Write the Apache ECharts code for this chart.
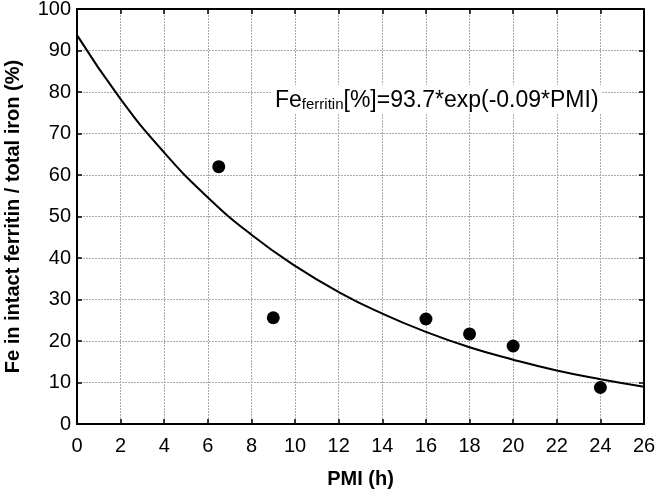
<!DOCTYPE html>
<html>
<head>
<meta charset="utf-8">
<script src="https://cdn.jsdelivr.net/npm/echarts@6/dist/echarts.min.js"></script>
<style>
  html, body { margin: 0; padding: 0; background: #fff; }
  #chart { width: 657px; height: 492px; }
</style>
</head>
<body>
<div id="chart"></div>
<script>
// measured points
const pmiHours = [6.5, 9, 16, 18, 20, 24]
const feFerritin = [62, 25.6, 25.3, 21.7, 18.8, 8.8]

// fitted curve
const fitX = [0, 2, 4, 6, 8, 10, 12, 14, 16, 18, 20, 22, 24, 26]
const fitY = [93.7, 78.3, 65.4, 54.6, 45.6, 38.1, 31.8, 26.6, 22.2, 18.5, 15.5, 12.9, 10.8, 9.0]

const xTicks = { min: 0, max: 26, step: 2 }
const yTicks = { min: 0, max: 100, step: 10 }

const font = '"Liberation Sans", Arial, sans-serif'

var myChart = echarts.init(document.getElementById('chart'))

var axisBase = {
  type: 'value',
  axisLine: { show: true, onZero: false, lineStyle: { color: '#000', width: 2 } },
  axisTick: { show: true, inside: true, length: 5, lineStyle: { color: '#000', width: 1.5 } },
}

var option = {
  animation: false,
  grid: { left: 77, right: 13, top: 9, bottom: 68, show: false, containLabel: false, outerBoundsMode: 'none' },
  xAxis: [
    Object.assign({}, axisBase, {
      min: xTicks.min, max: xTicks.max, interval: xTicks.step,
      position: 'bottom',
      name: 'PMI (h)',
      nameLocation: 'middle',
      nameGap: 45,
      nameTextStyle: { fontFamily: font, fontSize: 20, fontWeight: 'bold', color: '#000' },
      axisLabel: { fontFamily: font, fontSize: 20, color: '#000', margin: 12 },
      splitLine: { show: true, lineStyle: { color: '#aaa', type: [2, 1], width: 1 } }
    }),
    Object.assign({}, axisBase, {
      min: xTicks.min, max: xTicks.max, interval: xTicks.step,
      position: 'top',
      axisLabel: { show: false },
      splitLine: { show: false }
    })
  ],
  yAxis: [
    Object.assign({}, axisBase, {
      min: yTicks.min, max: yTicks.max, interval: yTicks.step,
      position: 'left',
      name: 'Fe in intact ferritin / total iron (%)',
      nameLocation: 'middle',
      nameGap: 54,
      nameTextStyle: { fontFamily: font, fontSize: 20, fontWeight: 'bold', color: '#000' },
      axisLabel: { fontFamily: font, fontSize: 20, color: '#000', margin: 6 },
      splitLine: { show: true, lineStyle: { color: '#aaa', type: [2, 1], width: 1 } }
    }),
    Object.assign({}, axisBase, {
      min: yTicks.min, max: yTicks.max, interval: yTicks.step,
      position: 'right',
      axisLabel: { show: false },
      splitLine: { show: false }
    })
  ],
  series: [
    {
      type: 'line',
      data: fitX.map((x, i) => [x, fitY[i]]),
      smooth: true,
      symbol: 'none',
      lineStyle: { color: '#000', width: 2 },
      z: 2
    },
    {
      type: 'scatter',
      data: pmiHours.map((x, i) => [x, feFerritin[i]]),
      symbol: 'circle',
      symbolSize: 13,
      itemStyle: { color: '#000', opacity: 1 },
      z: 3
    }
  ],
  graphic: [{
    type: 'text',
    left: 272,
    top: 85,
    z: 10,
    style: {
      text: '{fe|Fe}{sub|ferritin}{fe|[%]=93.7*exp(-0.09*PMI)}',
      backgroundColor: '#fff',
      padding: [1, 3],
      rich: {
        fe: { fontFamily: font, fontSize: 23, fill: '#000', verticalAlign: 'bottom', lineHeight: 26 },
        sub: { fontFamily: font, fontSize: 15, fill: '#000', verticalAlign: 'bottom', lineHeight: 20 }
      }
    }
  }]
}

myChart.setOption(option)
</script>
</body>
</html>
